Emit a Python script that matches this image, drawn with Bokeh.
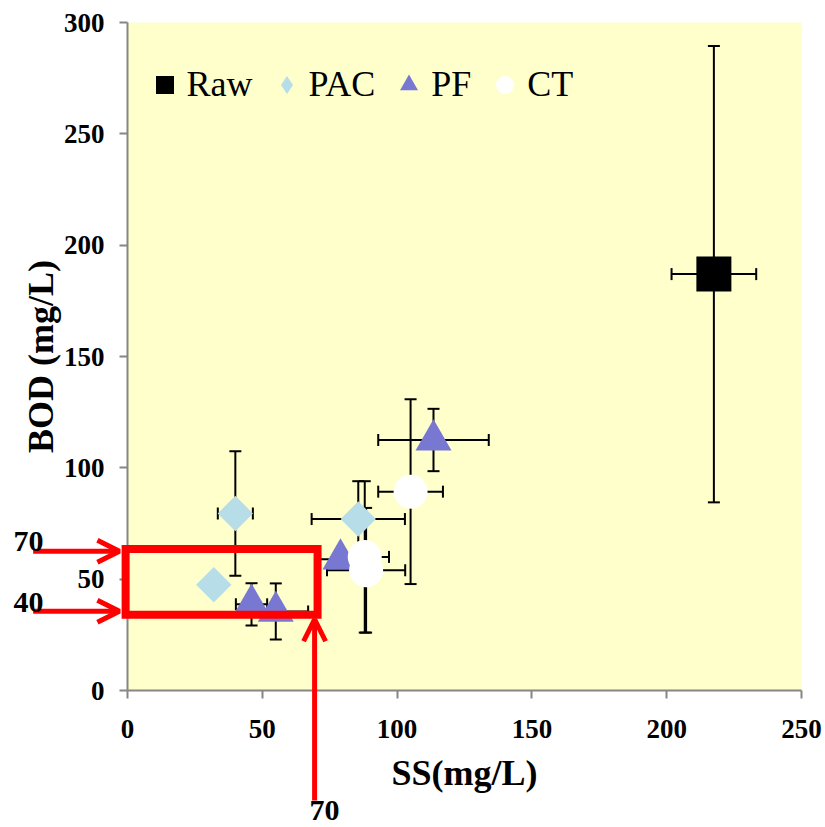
from bokeh.plotting import figure
from bokeh.models import (ColumnDataSource, Whisker, TeeHead, Range1d, Legend, LegendItem,
                          BoxAnnotation, Arrow, OpenHead, Label, FixedTicker)
from bokeh.embed import file_html
from bokeh.resources import INLINE
import math

# ---- data ----
raw_x = [217.5]
raw_y = [187.0]
raw_xerr = [15.7]
raw_yerr = [102.5]

pac_x = [40.0, 32.0, 85.6]
pac_y = [79.5, 47.5, 77.0]
pac_xerr = [6.5, 0.0, 17.3]
pac_yerr = [28.0, 0.0, 17.0]

pf_x = [113.5, 79.0, 46.0, 55.0]
pf_y = [112.5, 59.0, 38.7, 35.5]
pf_xerr = [20.5, 8.5, 5.8, 12.0]
pf_yerr = [14.0, 4.0, 9.5, 12.6]

ct_x = [105.0, 88.0, 88.5]
ct_y = [89.3, 60.0, 54.0]
ct_xerr = [12.0, 9.0, 14.5]
ct_yerr = [41.5, 34.0, 28.0]

x_ticks = [0, 50, 100, 150, 200, 250]
y_ticks = [0, 50, 100, 150, 200, 250, 300]
x_axis_range = (0, 250)
y_axis_range = (0, 300)

# highlight annotation (red box ~0-70 SS, ~40-70 BOD, as drawn)
box_x = [-0.7, 70.5]
box_y = [34.0, 63.5]
mark_labels = ["70", "40", "70"]

FONT = "Liberation Serif"

# ---- layout: the frame fills the canvas; the plot area is a box inside it ----
W, H = 825, 827
AREA_L, AREA_R, AREA_T, AREA_B = 127, 801, 22, 690
xs_per_px = (x_axis_range[1] - x_axis_range[0]) / (AREA_R - AREA_L)
ys_per_px = (y_axis_range[1] - y_axis_range[0]) / (AREA_B - AREA_T)
x_rng = Range1d(x_axis_range[0] - AREA_L * xs_per_px, x_axis_range[0] + (W - AREA_L) * xs_per_px)
y_rng = Range1d(y_axis_range[0] - (H - AREA_B) * ys_per_px, y_axis_range[0] + AREA_B * ys_per_px)

p = figure(width=W, height=H, output_backend="svg", toolbar_location=None,
           x_range=x_rng, y_range=y_rng, min_border=0)
p.background_fill_color = "white"
p.border_fill_color = "white"
p.outline_line_color = None
p.xgrid.visible = False
p.ygrid.visible = False

# plot area fill
p.add_layout(BoxAnnotation(left=x_axis_range[0], right=x_axis_range[1],
                           bottom=y_axis_range[0], top=y_axis_range[1],
                           fill_color="#FFFFCC", fill_alpha=1, line_color=None, level="image"))

for ax, ticks, bnds in ((p.xaxis, x_ticks, x_axis_range), (p.yaxis, y_ticks, y_axis_range)):
    ax.fixed_location = 0
    ax.bounds = bnds
    ax.ticker = FixedTicker(ticks=ticks)
    ax.axis_line_color = "#868686"
    ax.axis_line_width = 2
    ax.major_tick_line_color = "#868686"
    ax.major_tick_line_width = 2
    ax.major_tick_in = 0
    ax.major_tick_out = 8
    ax.minor_tick_line_color = None
    ax.major_label_text_font = FONT
    ax.major_label_text_font_style = "bold"
    ax.major_label_text_font_size = "27px"
    ax.major_label_text_color = "black"
    ax.axis_label_text_font = FONT
    ax.axis_label_text_font_style = "bold"
    ax.axis_label_text_font_size = "36px"
    ax.axis_label_text_color = "black"

p.xaxis.axis_label = "SS(mg/L)"
p.yaxis.axis_label = "BOD (mg/L)"
p.xaxis.major_label_standoff = 21
p.yaxis.major_label_standoff = 15
p.xaxis.axis_label_standoff = 12
p.yaxis.axis_label_standoff = 0


def add_series(xs, ys, xerr, yerr):
    src = ColumnDataSource(dict(
        x=xs, y=ys,
        xl=[a - e for a, e in zip(xs, xerr)], xu=[a + e for a, e in zip(xs, xerr)],
        yl=[a - e for a, e in zip(ys, yerr)], yu=[a + e for a, e in zip(ys, yerr)],
    ))
    head = dict(size=12, line_color="black", line_width=2)
    p.add_layout(Whisker(source=src, base="x", lower="yl", upper="yu", dimension="height",
                         line_color="black", line_width=2, level="underlay",
                         lower_head=TeeHead(**head), upper_head=TeeHead(**head)))
    p.add_layout(Whisker(source=src, base="y", lower="xl", upper="xu", dimension="width",
                         line_color="black", line_width=2, level="underlay",
                         lower_head=TeeHead(**head), upper_head=TeeHead(**head)))
    return src


src_raw = add_series(raw_x, raw_y, raw_xerr, raw_yerr)
src_pac = add_series(pac_x, pac_y, pac_xerr, pac_yerr)
src_pf = add_series(pf_x, pf_y, pf_xerr, pf_yerr)
src_ct = add_series(ct_x, ct_y, ct_xerr, ct_yerr)

r_raw = p.scatter("x", "y", source=src_raw, marker="square", size=35,
                  fill_color="black", line_color=None)
# legend proxy for the diamond (legend glyphs ignore rotation); hidden under the rotated squares
r_pac_leg = p.scatter("x", "y", source=src_pac, marker="diamond", size=22,
                      fill_color="#B7DEE8", line_color=None)
r_pac = p.scatter("x", "y", source=src_pac, marker="square", size=25, angle=math.pi / 4,
                  fill_color="#B7DEE8", line_color=None)
r_pf = p.scatter("x", "y", source=src_pf, marker="triangle", size=36,
                 fill_color="#7878D2", line_color=None)
r_ct = p.scatter("x", "y", source=src_ct, marker="circle", size=34,
                 fill_color="white", line_color=None)

legend = Legend(items=[LegendItem(label="Raw", renderers=[r_raw]),
                       LegendItem(label="PAC", renderers=[r_pac_leg]),
                       LegendItem(label="PF", renderers=[r_pf]),
                       LegendItem(label="CT", renderers=[r_ct])],
                orientation="horizontal", location=(141.5, H - 106.5),
                glyph_width=45, glyph_height=45, label_standoff=0, spacing=11,
                padding=0, margin=0, background_fill_alpha=0, border_line_color=None,
                label_text_font=FONT, label_text_font_size="36px", label_text_color="black")
p.add_layout(legend)

# red highlight
p.add_layout(BoxAnnotation(left=box_x[0], right=box_x[1], bottom=box_y[0], top=box_y[1],
                           fill_alpha=0, line_color="#FF0000", line_alpha=1, line_width=8,
                           line_join="miter", level="overlay"))
arrow_kw = dict(line_color="#FF0000", line_width=5, level="overlay")
head_kw = dict(size=22, line_color="#FF0000", line_width=5)
p.add_layout(Arrow(x_start=-35, y_start=62.5, x_end=-3, y_end=62.5,
                   end=OpenHead(**head_kw), **arrow_kw))
p.add_layout(Arrow(x_start=-35, y_start=35.6, x_end=-3, y_end=35.6,
                   end=OpenHead(**head_kw), **arrow_kw))
p.add_layout(Arrow(x_start=69.4, y_start=-49.4, x_end=69.4, y_end=32.0,
                   end=OpenHead(**head_kw), **arrow_kw))
lab_kw = dict(text_font=FONT, text_font_style="bold", text_font_size="30px",
              text_color="black", text_align="center", text_baseline="middle", level="overlay")
p.add_layout(Label(x=-36.7, y=66.9, text=mark_labels[0], **lab_kw))
p.add_layout(Label(x=-36.7, y=39.5, text=mark_labels[1], **lab_kw))
p.add_layout(Label(x=73.1, y=-54.0, text=mark_labels[2], **lab_kw))

open("out.html", "w").write(file_html(p, INLINE))
